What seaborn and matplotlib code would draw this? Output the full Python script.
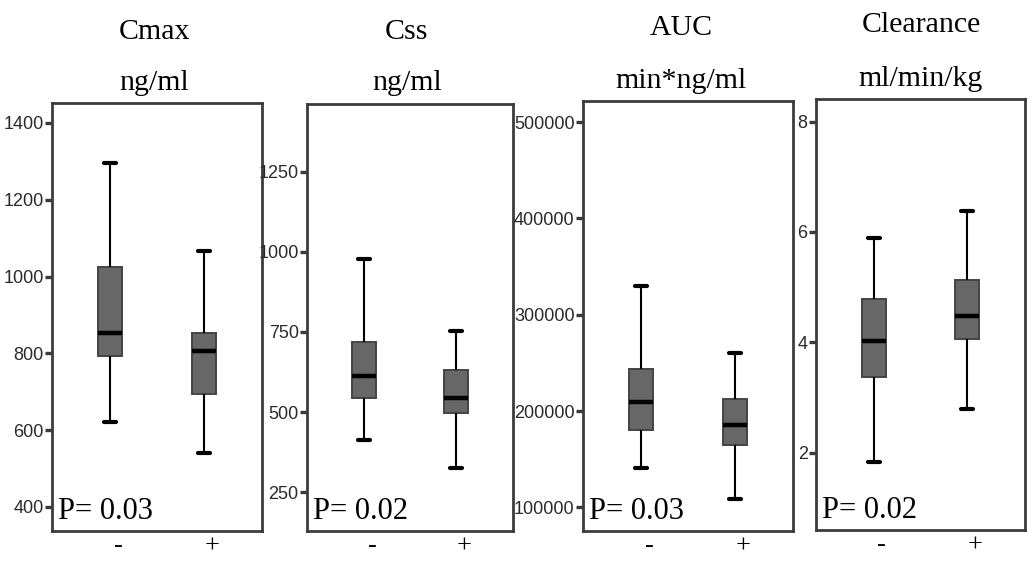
import numpy as np
import pandas as pd
import matplotlib
matplotlib.use("Agg")
import matplotlib.pyplot as plt
import matplotlib.transforms as mtransforms
import seaborn as sns

# ---------------- data (five-number summaries) ----------------
groups = ["-", "+"]

titles = ["Cmax", "Css", "AUC", "Clearance"]
units = ["ng/ml", "ng/ml", "min*ng/ml", "ml/min/kg"]
p_values = ["P= 0.03", "P= 0.02", "P= 0.03", "P= 0.02"]

# [min, Q1, median, Q3, max]
cmax_minus = [621, 792, 853, 1026, 1295]
cmax_plus = [541, 694, 807, 854, 1067]
css_minus = [413, 543, 614, 720, 977]
css_plus = [325, 496, 543, 631, 754]
auc_minus = [140500, 180300, 209800, 243400, 330000]
auc_plus = [108300, 164400, 185200, 212900, 260700]
cl_minus = [1.84, 3.38, 4.02, 4.78, 5.89]
cl_plus = [2.79, 4.07, 4.48, 5.13, 6.38]

cmax_ticks = [400, 600, 800, 1000, 1200, 1400]
css_ticks = [250, 500, 750, 1000, 1250]
auc_ticks = [100000, 200000, 300000, 400000, 500000]
cl_ticks = [2, 4, 6, 8]

series = [(cmax_minus, cmax_plus), (css_minus, css_plus),
          (auc_minus, auc_plus), (cl_minus, cl_plus)]
tick_sets = [cmax_ticks, css_ticks, auc_ticks, cl_ticks]

# ---------------- layout (pixels of the 1027x561 canvas) ----------------
W, H = 1027, 561
panel_px = [(52, 103, 262, 531), (307, 104, 513, 531),
            (583, 101, 793, 531), (816, 99, 1025, 530)]
ylims = [(337.5, 1452), (129, 1461), (75400, 522000), (0.60, 8.41)]
title_x = [154, 407, 681, 921]
title_base = [(39, 90), (39, 90), (35, 88), (32, 86)]

sns.set_style("white")
plt.rcParams["font.family"] = ["Liberation Serif", "DejaVu Serif"]

fig = plt.figure(figsize=(W / 100, H / 100), dpi=100)
fig.patch.set_facecolor("white")

tick_font = ["Liberation Sans Narrow", "Liberation Sans", "DejaVu Sans"]
spine_col = "#3c3c3c"

for i in range(4):
    x0, y0, x1, y1 = panel_px[i]
    ax = fig.add_axes([x0 / W, (H - y1) / H, (x1 - x0) / W, (y1 - y0) / H])
    minus_vals, plus_vals = series[i]
    df = pd.DataFrame({
        "group": [groups[0]] * len(minus_vals) + [groups[1]] * len(plus_vals),
        "value": list(minus_vals) + list(plus_vals),
    })
    sns.boxplot(
        data=df, x="group", y="value", order=groups, ax=ax,
        color="#676767", saturation=1, width=0.255, whis=(0, 100),
        showfliers=False, linewidth=1.2,
        boxprops=dict(facecolor="#676767", edgecolor="#444444", linewidth=1.4),
        medianprops=dict(color="black", linewidth=3.2),
        whiskerprops=dict(color="black", linewidth=1.5),
        capprops=dict(color="black", linewidth=3.0),
    )
    ax.set_xlim(-0.62, 1.62)
    ax.set_ylim(*ylims[i])
    ax.set_xlabel("")
    ax.set_ylabel("")

    ticks = tick_sets[i]
    ax.set_yticks(ticks)
    ax.set_yticklabels([str(t) for t in ticks], family=tick_font,
                       fontsize=13, color="#2a2a2a")
    ax.tick_params(axis="y", direction="out", length=5, width=2.4,
                   color="#3a3a3a", pad=1, left=True)
    ax.tick_params(axis="x", length=0, pad=3)
    ax.set_xticks([0, 1])
    ax.set_xticklabels(groups, fontsize=19, color="black",
                       family=["Liberation Serif", "DejaVu Serif"])
    offset = mtransforms.ScaledTranslation(8 / 100, 0, fig.dpi_scale_trans)
    for lab in ax.get_xticklabels():
        lab.set_transform(lab.get_transform() + offset)

    for side, sp in ax.spines.items():
        sp.set_visible(True)
        sp.set_color(spine_col)
        sp.set_linewidth(2.0)

    ax.text(0.027, 0.028, p_values[i], transform=ax.transAxes,
            ha="left", va="baseline", fontsize=22, color="black")

    b1, b2 = title_base[i]
    fig.text(title_x[i] / W, 1 - b1 / H, titles[i], ha="center",
             va="baseline", fontsize=21.5, color="black")
    fig.text(title_x[i] / W, 1 - b2 / H, units[i], ha="center",
             va="baseline", fontsize=21.5, color="black")

fig.savefig("out.png", dpi=100, facecolor="white")
